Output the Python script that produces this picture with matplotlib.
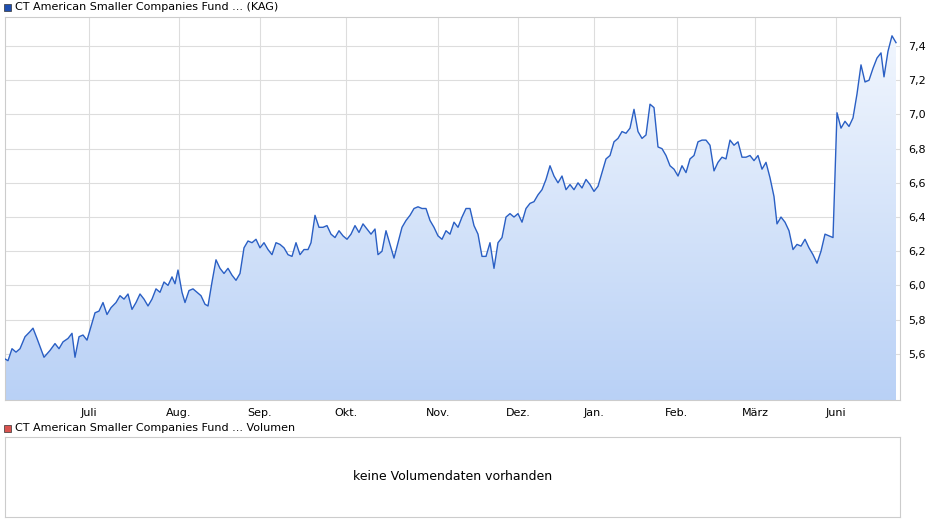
import matplotlib.pyplot as plt
import numpy as np
from matplotlib.patches import Polygon

# x positions (chart pixels) and fund prices
xs = [5, 8, 12, 16, 20, 25, 30, 33, 37, 44, 50, 55, 59, 63, 68, 72, 75, 79, 83, 87, 91, 95, 99, 103, 107, 111, 116, 120, 124, 128,
      132, 136, 140, 144, 148, 152, 156, 160, 164, 168, 172, 175, 178, 182, 185, 189, 193, 197, 201, 205, 208, 212, 216, 220, 224, 228, 232, 236, 240, 244,
      248, 252, 256, 260, 264, 268, 272, 276, 280, 284, 288, 292, 296, 300, 304, 308, 311, 315, 319, 323, 327, 331, 335, 339, 343, 347, 351, 355, 359, 363,
      367, 371, 375, 378, 382, 386, 390, 394, 398, 402, 406, 410, 414, 418, 422, 426, 430, 434, 438, 442, 446, 450, 454, 458, 462, 466, 470, 474, 478, 482,
      486, 490, 494, 498, 502, 506, 510, 514, 518, 522, 526, 530, 534, 538, 542, 546, 550, 554, 558, 562, 566, 570, 574, 578, 582, 586, 590, 594, 598, 602,
      606, 610, 614, 618, 622, 626, 630, 634, 638, 642, 646, 650, 654, 658, 662, 666, 670, 674, 678, 682, 686, 690, 694, 698, 702, 706, 710, 714, 718, 722,
      726, 730, 734, 738, 742, 746, 750, 754, 758, 762, 766, 770, 774, 777, 781, 785, 789, 793, 797, 801, 805, 809, 813, 817, 821, 825, 829, 833, 837, 841,
      845, 849, 853, 857, 861, 865, 869, 873, 877, 881, 884, 888, 892, 896]
prices = [5.57, 5.56, 5.63, 5.61, 5.63, 5.70, 5.73, 5.75, 5.69, 5.58, 5.62, 5.66, 5.63, 5.67, 5.69, 5.72, 5.58, 5.70, 5.71, 5.68, 5.76, 5.84, 5.85, 5.90, 5.83, 5.87, 5.90, 5.94, 5.92, 5.95,
          5.86, 5.90, 5.95, 5.92, 5.88, 5.92, 5.98, 5.96, 6.02, 6.00, 6.05, 6.01, 6.09, 5.96, 5.90, 5.97, 5.98, 5.96, 5.94, 5.89, 5.88, 6.02, 6.15, 6.10, 6.07, 6.10, 6.06, 6.03, 6.07, 6.22,
          6.26, 6.25, 6.27, 6.22, 6.25, 6.21, 6.18, 6.25, 6.24, 6.22, 6.18, 6.17, 6.25, 6.18, 6.21, 6.21, 6.25, 6.41, 6.34, 6.34, 6.35, 6.30, 6.28, 6.32, 6.29, 6.27, 6.30, 6.35, 6.31, 6.36,
          6.33, 6.30, 6.33, 6.18, 6.20, 6.32, 6.24, 6.16, 6.25, 6.34, 6.38, 6.41, 6.45, 6.46, 6.45, 6.45, 6.38, 6.34, 6.29, 6.27, 6.32, 6.30, 6.37, 6.34, 6.40, 6.45, 6.45, 6.35, 6.30, 6.17,
          6.17, 6.25, 6.10, 6.25, 6.28, 6.40, 6.42, 6.40, 6.42, 6.37, 6.45, 6.48, 6.49, 6.53, 6.56, 6.62, 6.70, 6.64, 6.60, 6.64, 6.56, 6.59, 6.56, 6.60, 6.57, 6.62, 6.59, 6.55, 6.58, 6.66,
          6.74, 6.76, 6.84, 6.86, 6.90, 6.89, 6.92, 7.03, 6.90, 6.86, 6.88, 7.06, 7.04, 6.81, 6.80, 6.76, 6.70, 6.68, 6.64, 6.70, 6.66, 6.74, 6.76, 6.84, 6.85, 6.85, 6.82, 6.67, 6.72, 6.75,
          6.74, 6.85, 6.82, 6.84, 6.75, 6.75, 6.76, 6.73, 6.76, 6.68, 6.72, 6.63, 6.52, 6.36, 6.40, 6.37, 6.32, 6.21, 6.24, 6.23, 6.27, 6.22, 6.18, 6.13, 6.20, 6.30, 6.29, 6.28, 7.01, 6.92,
          6.96, 6.93, 6.98, 7.12, 7.29, 7.19, 7.20, 7.27, 7.33, 7.36, 7.22, 7.37, 7.46, 7.42]
month_pos = [89, 179, 260, 346, 438, 518, 594, 677, 755, 836]
month_labels = ['Juli', 'Aug.', 'Sep.', 'Okt.', 'Nov.', 'Dez.', 'Jan.', 'Feb.', 'März', 'Juni']
yticks = [5.6, 5.8, 6.0, 6.2, 6.4, 6.6, 6.8, 7.0, 7.2, 7.4]

W, H = 940, 526
fig = plt.figure(figsize=(W / 100, H / 100), dpi=100)
grid_c = '#dddddd'

ax = fig.add_axes([5 / W, 1 - 400 / H, 895 / W, 383 / H])
ymin, ymax = 5.33, 7.57
ax.set_xlim(5, 900)
ax.set_ylim(ymin, ymax)

# gradient fill under the line
grad = np.linspace(0, 1, 256).reshape(-1, 1)
cmap = plt.matplotlib.colors.LinearSegmentedColormap.from_list('g', ['#b9d1f6', '#f4f8fe'])
im = ax.imshow(grad, extent=[5, 900, ymin, ymax], origin='lower', aspect='auto', cmap=cmap, zorder=1)
poly = Polygon(list(zip(xs, prices)) + [(xs[-1], ymin), (xs[0], ymin)], closed=True, transform=ax.transData)
im.set_clip_path(poly)
ax.plot(xs, prices, color='#2a5fc4', lw=1.0, zorder=3)

ax.set_xticks(month_pos)
ax.set_xticklabels(month_labels, fontsize=8)
ax.yaxis.tick_right()
ax.set_yticks(yticks)
ax.set_yticklabels([f'{v:.1f}'.replace('.', ',') for v in yticks], fontsize=8)
ax.tick_params(length=0, pad=6)
ax.grid(True, color=grid_c, lw=0.8, zorder=0)
ax.set_axisbelow(True)
for s in ax.spines.values():
    s.set_color('#cccccc')

# legend rows
fig.patches.append(plt.Rectangle((4 / W, 1 - 11 / H), 7 / W, 7 / H, transform=fig.transFigure, fc='#1f4fb0', ec='#333333', lw=0.5))
fig.text(15 / W, 1 - 7 / H, 'CT American Smaller Companies Fund ... (KAG)', fontsize=8, va='center')
fig.patches.append(plt.Rectangle((4 / W, 1 - 432 / H), 7 / W, 7 / H, transform=fig.transFigure, fc='#d9534f', ec='#333333', lw=0.5))
fig.text(15 / W, 1 - 428 / H, 'CT American Smaller Companies Fund ... Volumen', fontsize=8, va='center')

ax2 = fig.add_axes([5 / W, 1 - 517 / H, 895 / W, 80 / H])
ax2.set_xticks([])
ax2.set_yticks([])
for s in ax2.spines.values():
    s.set_color('#cccccc')
ax2.text(0.5, 0.5, 'keine Volumendaten vorhanden', transform=ax2.transAxes, ha='center', va='center', fontsize=9)

fig.savefig('out.png', dpi=100)
